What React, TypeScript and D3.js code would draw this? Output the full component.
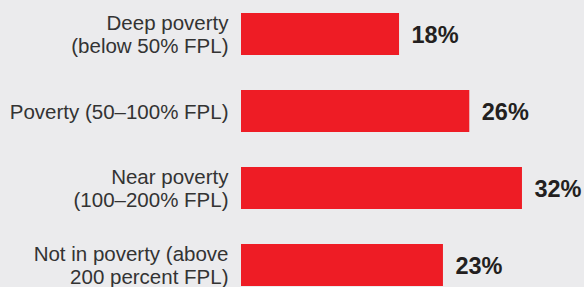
import React, { useEffect } from "react";
import * as d3 from "d3";

// category labels, already split into the lines used in the chart
const categories = [
  ["Deep poverty", "(below 50% FPL)"],
  ["Poverty (50–100% FPL)"],
  ["Near poverty", "(100–200% FPL)"],
  ["Not in poverty (above", "200 percent FPL)"],
];
const values = [18, 26, 32, 23];

const W = 584;
const H = 287;
const RED = "#ee1c25";
const BG = "#ebebed";

export default function App() {
  useEffect(() => {
    document.body.style.margin = "0";
    document.body.style.background = BG;
  }, []);

  const keys = categories.map((c) => c.join(" "));
  const y = d3.scaleBand().domain(keys).range([13, 286]).paddingInner(35 / 77).paddingOuter(0);
  const x = d3.scaleLinear().domain([0, 100]).range([241, 241 + 878]);

  const labelSize = 20.5;
  const lineH = 23.5;
  const capH = 15;
  const valueSize = 23.5;

  return (
    <svg width={W} height={H} style={{ display: "block", background: BG }}>
      <rect width={W} height={H} fill={BG} />
      {categories.map((lines, i) => {
        const k = keys[i];
        const cy = (y(k) as number) + y.bandwidth() / 2;
        const v = values[i];
        const first = cy + capH / 2 - ((lines.length - 1) * lineH) / 2;
        return (
          <g key={k}>
            <rect x={x(0)} y={y(k)} width={x(v) - x(0)} height={y.bandwidth()} fill={RED} />
            <text
              textAnchor="end"
              fontFamily="'Liberation Sans', Arial, Helvetica, sans-serif"
              fontSize={labelSize}
              fill="#333"
            >
              {lines.map((t, j) => (
                <tspan key={j} x={228.5} y={first + j * lineH}>
                  {t}
                </tspan>
              ))}
            </text>
            <text
              x={x(v) + 12.5}
              y={cy + 8.7}
              fontFamily="'Liberation Sans', Arial, Helvetica, sans-serif"
              fontWeight="bold"
              fontSize={valueSize}
              fill="#231f20"
            >
              {v}%
            </text>
          </g>
        );
      })}
    </svg>
  );
}
